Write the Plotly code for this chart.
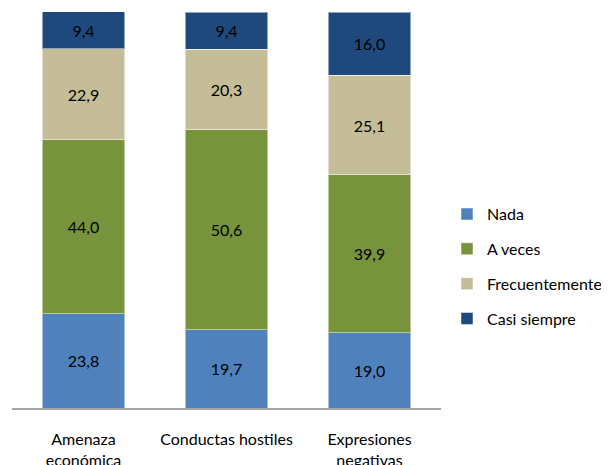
import plotly.graph_objects as go

categories = ["Amenaza<br>económica", "Conductas hostiles", "Expresiones<br>negativas"]
series_names = ["Nada", "A veces", "Frecuentemente", "Casi siempre"]
nada = [23.8, 19.7, 19.0]
a_veces = [44.0, 50.6, 39.9]
frecuentemente = [22.9, 20.3, 25.1]
casi_siempre = [9.4, 9.4, 16.0]

colors = ["#4F81BD", "#77933C", "#C4BD97", "#1F497D"]
values = [nada, a_veces, frecuentemente, casi_siempre]

fig = go.Figure()
for name, vals, col in zip(series_names, values, colors):
    fig.add_trace(go.Bar(
        x=categories, y=vals, name=name, legendgroup=name,
        marker=dict(color=col, line=dict(color="rgba(255,255,255,0.5)", width=1)),
        text=[f"{v:.1f}".replace(".", ",") for v in vals],
        textposition="inside", insidetextanchor="middle",
        textfont=dict(color="black", size=16), constraintext="none",
        width=0.575,
    ))

# page body has an 8px margin, so offsets are compensated here
fig.update_layout(
    barmode="stack",
    width=609, height=465,
    margin=dict(l=4, r=176, t=4, b=65, autoexpand=False),
    paper_bgcolor="white", plot_bgcolor="white",
    font=dict(family="Lato, Carlito, sans-serif", size=16, color="black"),
    showlegend=True,
    legend=dict(x=1.014, xanchor="left", y=0.357, yanchor="middle",
                traceorder="grouped", tracegroupgap=11,
                font=dict(size=16), itemwidth=30),
    uniformtext=dict(mode=False),
)
fig.update_xaxes(showline=True, linecolor="#A6A6A6", linewidth=2, automargin=False,
                 ticks="", ticklabelstandoff=16, tickfont=dict(size=16))
fig.update_yaxes(range=[0, 100], visible=False, showgrid=False, automargin=False)

fig.write_html("out.html")
